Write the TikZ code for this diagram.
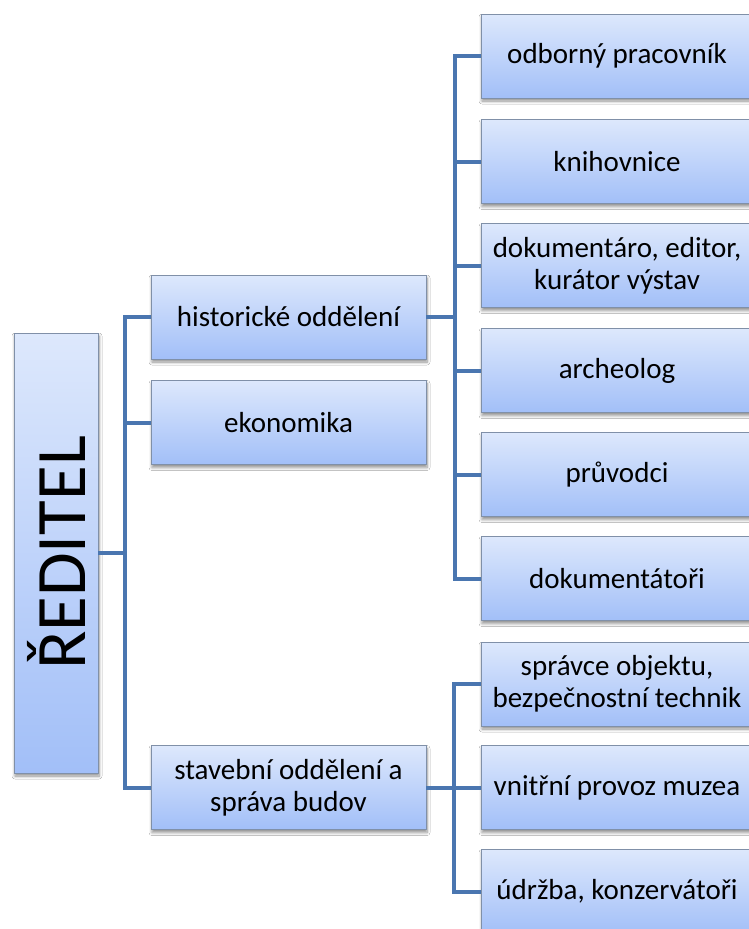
\documentclass[tikz,border=0pt]{standalone}
\usepackage{fontspec}
\setmainfont{Carlito}
\usetikzlibrary{shadows.blur}
\definecolor{boxtop}{HTML}{DDE8FC}
\definecolor{boxbot}{HTML}{A2BFF8}
\definecolor{boxline}{HTML}{8090A8}
\definecolor{connblue}{HTML}{4A76B0}
\tikzset{
  orgbox/.style={rectangle, draw=boxline, line width=0.8pt, top color=boxtop, bottom color=boxbot,
    align=center, inner sep=2pt, font=\fontsize{29pt}{32pt}\selectfont,
    blur shadow={shadow xshift=1pt, shadow yshift=-3pt, shadow blur radius=3pt, shadow blur steps=6, shadow opacity=45}},
  lvltwo/.style={orgbox, minimum width=275pt, minimum height=84pt},
  lvlthree/.style={orgbox, minimum width=272pt, minimum height=84pt},
  conn/.style={draw=connblue, line width=4pt}
}
\begin{document}
\begin{tikzpicture}[x=1pt,y=-1pt]
\useasboundingbox (0,0) rectangle (749,929);
\clip (0,0) rectangle (749,929);
\fill[white] (0,0) rectangle (749,929);
% root
\node[orgbox, minimum width=84pt, minimum height=440pt, font=\fontsize{71pt}{76pt}\selectfont] (root) at (56,553) {\rotatebox{90}{ŘEDITEL}};
% level 2
\node[lvltwo] (hist) at (288.5,317) {historické oddělení};
\node[lvltwo] (ekon) at (288.5,422.5) {ekonomika};
\node[lvltwo] (stav) at (288.5,787.5) {stavební oddělení a\\správa budov};
% level 3 historické
\node[lvlthree] (a1) at (617,56) {odborný pracovník};
\node[lvlthree] (a2) at (617,161.5) {knihovnice};
\node[lvlthree] (a3) at (617,265.5) {dokumentáro, editor,\\kurátor výstav};
\node[lvlthree] (a4) at (617,370.5) {archeolog};
\node[lvlthree] (a5) at (617,474.5) {průvodci};
\node[lvlthree] (a6) at (617,578.5) {dokumentátoři};
% level 3 stavební
\node[lvlthree] (b1) at (617,684) {správce objektu,\\bezpečnostní technik};
\node[lvlthree] (b2) at (617,787.5) {vnitřní provoz muzea};
\node[lvlthree] (b3) at (617,891.5) {údržba, konzervátoři};
% connectors
\foreach \c in {hist,ekon,stav}
  \draw[conn] (root.east) -- ++(27,0) |- (\c.west);
\foreach \c in {a1,a2,a3,a4,a5,a6}
  \draw[conn] (hist.east) -- ++(29,0) |- (\c.west);
\foreach \c in {b1,b2,b3}
  \draw[conn] (stav.east) -- ++(28,0) |- (\c.west);
\end{tikzpicture}
\end{document}
